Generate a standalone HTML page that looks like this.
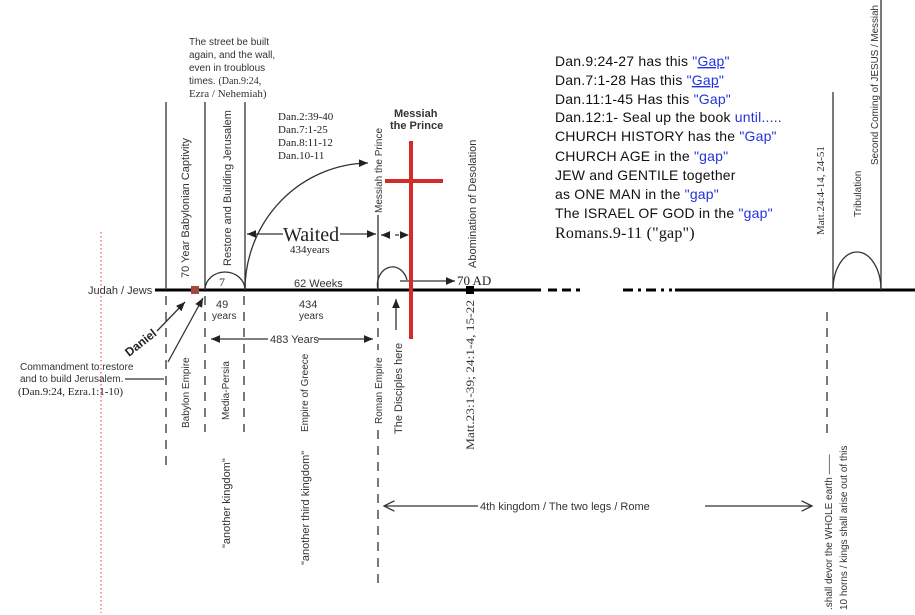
<!DOCTYPE html>
<html><head><meta charset="utf-8"><style>
body{margin:0;background:#fff}
svg{display:block;font-family:"Liberation Sans",sans-serif}
.s{font-family:"Liberation Serif",serif}
</style></head><body>
<svg width="915" height="615" viewBox="0 0 915 615">
<defs><marker id="a" markerWidth="8" markerHeight="8" refX="7" refY="4" orient="auto"><path d="M0,1 L7,4 L0,7 z" fill="#222"/></marker>
<marker id="o" markerWidth="10" markerHeight="10" refX="9" refY="5" orient="auto"><path d="M1,1 L9,5 L1,9" fill="none" stroke="#333"/></marker></defs>
<line x1="101" y1="232" x2="101" y2="613" stroke="#e33" stroke-dasharray="1.5,2.5"/>
<line x1="155" y1="290" x2="541" y2="290" stroke="#000" stroke-width="3"/>
<line x1="548" y1="290" x2="580" y2="290" stroke="#000" stroke-width="3" stroke-dasharray="9,5"/>
<line x1="623" y1="290" x2="672" y2="290" stroke="#000" stroke-width="3" stroke-dasharray="10,5,3,5"/>
<line x1="675" y1="290" x2="915" y2="290" stroke="#000" stroke-width="3"/>
<text x="88" y="294" font-size="11" fill="#333">Judah / Jews</text>
<g stroke="#333" stroke-width="1.3">
<line x1="166" y1="102" x2="166" y2="290"/><line x1="205" y1="102" x2="205" y2="290"/><line x1="245" y1="102" x2="245" y2="290"/>
<line x1="378" y1="215" x2="378" y2="290"/>
<line x1="833" y1="92" x2="833" y2="290"/><line x1="881" y1="0" x2="881" y2="290"/>
</g>
<g stroke="#333" stroke-width="1.3" stroke-dasharray="9,7">
<line x1="166" y1="296" x2="166" y2="465"/><line x1="205" y1="296" x2="205" y2="432"/><line x1="244" y1="296" x2="244" y2="432"/>
<line x1="378" y1="296" x2="378" y2="350"/><line x1="378" y1="430" x2="378" y2="583"/><line x1="827" y1="312" x2="827" y2="440"/>
</g>
<rect x="191" y="286" width="8" height="8" fill="#a24a3e"/>
<rect x="466" y="286" width="8" height="8" fill="#000"/>
<g fill="none" stroke="#333" stroke-width="1.3">
<path d="M205,290 A20,18 0 0 1 245,290"/>
<path d="M245,290 A125,127 0 0 1 368,163" marker-end="url(#a)"/>
<path d="M378,290 A15,18 0 0 1 407,280"/>
<path d="M833,290 A24,38 0 0 1 881,290"/>
<line x1="400" y1="281" x2="455" y2="281" marker-end="url(#a)"/>
<line x1="283" y1="234" x2="247" y2="234" marker-end="url(#a)"/>
<line x1="340" y1="234" x2="376" y2="234" marker-end="url(#a)"/>
<line x1="385" y1="235" x2="381" y2="235" marker-end="url(#a)" stroke-dasharray="4,3"/>
<line x1="395" y1="235" x2="409" y2="235" marker-end="url(#a)" stroke-dasharray="4,3"/>
<line x1="268" y1="339" x2="211" y2="339" marker-end="url(#a)"/>
<line x1="318" y1="339" x2="373" y2="339" marker-end="url(#a)"/>
<line x1="396" y1="330" x2="396" y2="299" marker-end="url(#a)"/>
<line x1="157" y1="331" x2="185" y2="302" marker-end="url(#a)"/>
<line x1="168" y1="362" x2="203" y2="298" marker-end="url(#a)"/>
<line x1="125" y1="379" x2="164" y2="379"/>
<line x1="478" y1="506" x2="384" y2="506" marker-end="url(#o)"/>
<line x1="705" y1="506" x2="812" y2="506" marker-end="url(#o)"/>
</g>
<rect x="409" y="141" width="4" height="198" fill="#d42a2a"/>
<rect x="385" y="179" width="58" height="4" fill="#d42a2a"/>
<g font-size="10" fill="#333">
<text x="189" y="45">The street be built</text><text x="189" y="58">again, and the wall,</text><text x="189" y="71">even in troublous</text>
<text x="189" y="84">times. <tspan class="s">(Dan.9:24,</tspan></text><text x="189" y="97" class="s" font-size="11">Ezra / Nehemiah)</text>
</g>
<g class="s" font-size="11" fill="#222"><text x="278" y="120">Dan.2:39-40</text><text x="278" y="133">Dan.7:1-25</text><text x="278" y="146">Dan.8:11-12</text><text x="278" y="159">Dan.10-11</text></g>
<text x="394" y="117" font-size="11" font-weight="bold" fill="#333">Messiah</text><text x="390" y="129" font-size="11" font-weight="bold" fill="#333">the Prince</text>
<text x="283" y="241" class="s" font-size="20" fill="#222">Waited</text>
<text x="290" y="253" class="s" font-size="11" fill="#222">434years</text>
<text x="219" y="286" font-size="12" fill="#333" class="s">7</text>
<text x="294" y="287" font-size="11" fill="#333">62 Weeks</text>
<text x="457" y="285" class="s" font-size="13" fill="#222">70 AD</text>
<text x="216" y="308" font-size="11" fill="#333">49</text><text x="212" y="319" font-size="10" fill="#333">years</text>
<text x="299" y="308" font-size="11" fill="#333">434</text><text x="299" y="319" font-size="10" fill="#333">years</text>
<text x="270" y="343" font-size="11" fill="#333">483 Years</text>
<text x="0" y="0" font-size="12" font-weight="bold" fill="#222" transform="translate(129,357) rotate(-38)">Daniel</text>
<text x="20" y="370" font-size="10" fill="#333">Commandment to restore</text>
<text x="20" y="382" font-size="10" fill="#333">and to build Jerusalem.</text>
<text x="18" y="395" class="s" font-size="11" fill="#222">(Dan.9:24, Ezra.1:1-10)</text>
<g font-size="11" fill="#333">
<text transform="translate(189,278) rotate(-90)">70 Year Babylonian Captivity</text>
<text transform="translate(231,266) rotate(-90)">Restore and Building Jerusalem</text>
<text transform="translate(382,213) rotate(-90)" font-size="10">Messiah the Prince</text>
<text transform="translate(476,268) rotate(-90)">Abomination of Desolation</text>
<text transform="translate(189,428) rotate(-90)" font-size="10">Babylon Empire</text>
<text transform="translate(229,420) rotate(-90)" font-size="10">Media-Persia</text>
<text transform="translate(308,432) rotate(-90)" font-size="10">Empire of Greece</text>
<text transform="translate(382,424) rotate(-90)" font-size="10">Roman Empire</text>
<text transform="translate(402,434) rotate(-90)" font-size="11">The Disciples here</text>
<text transform="translate(474,450) rotate(-90)" class="s" font-size="12" textLength="150" lengthAdjust="spacingAndGlyphs">Matt.23:1-39; 24:1-4, 15-22</text>
<text transform="translate(230,548) rotate(-90)">"another kingdom"</text>
<text transform="translate(309,565) rotate(-90)">"another third kingdom"</text>
<text transform="translate(824,235) rotate(-90)" class="s" font-size="11">Matt.24:4-14, 24-51</text>
<text transform="translate(861,217) rotate(-90)" font-size="10">Tribulation</text>
<text transform="translate(878,165) rotate(-90)" font-size="10" textLength="160" lengthAdjust="spacingAndGlyphs">Second Coming of JESUS / Messiah</text>
<text transform="translate(832,610) rotate(-90)" font-size="10">.shall devor the WHOLE earth ——</text>
<text transform="translate(847,610) rotate(-90)" font-size="10">10 horns / kings shall arise out of this</text>
</g>
<text x="480" y="510" font-size="11" fill="#333">4th kingdom / The two legs / Rome</text>
<g font-size="14" fill="#111" letter-spacing="0.2">
<text x="555" y="66">Dan.9:24-27 has this <tspan fill="#2233dd">"<tspan text-decoration="underline">Gap</tspan>"</tspan></text>
<text x="555" y="85">Dan.7:1-28  Has this <tspan fill="#2233dd">"<tspan text-decoration="underline">Gap</tspan>"</tspan></text>
<text x="555" y="104">Dan.11:1-45 Has this <tspan fill="#2233dd">"Gap"</tspan></text>
<text x="555" y="122">Dan.12:1- Seal up the book <tspan fill="#2233dd">until.....</tspan></text>
<text x="555" y="141">CHURCH HISTORY has the <tspan fill="#2233dd">"Gap"</tspan></text>
<text x="555" y="161">CHURCH AGE in the <tspan fill="#2233dd">"gap"</tspan></text>
<text x="555" y="180">JEW and GENTILE together</text>
<text x="555" y="199">as ONE MAN in the <tspan fill="#2233dd">"gap"</tspan></text>
<text x="555" y="218">The ISRAEL OF GOD in the <tspan fill="#2233dd">"gap"</tspan></text>
<text x="555" y="238" class="s" font-size="16">Romans.9-11 ("gap")</text>
</g>
</svg>
</body></html>
